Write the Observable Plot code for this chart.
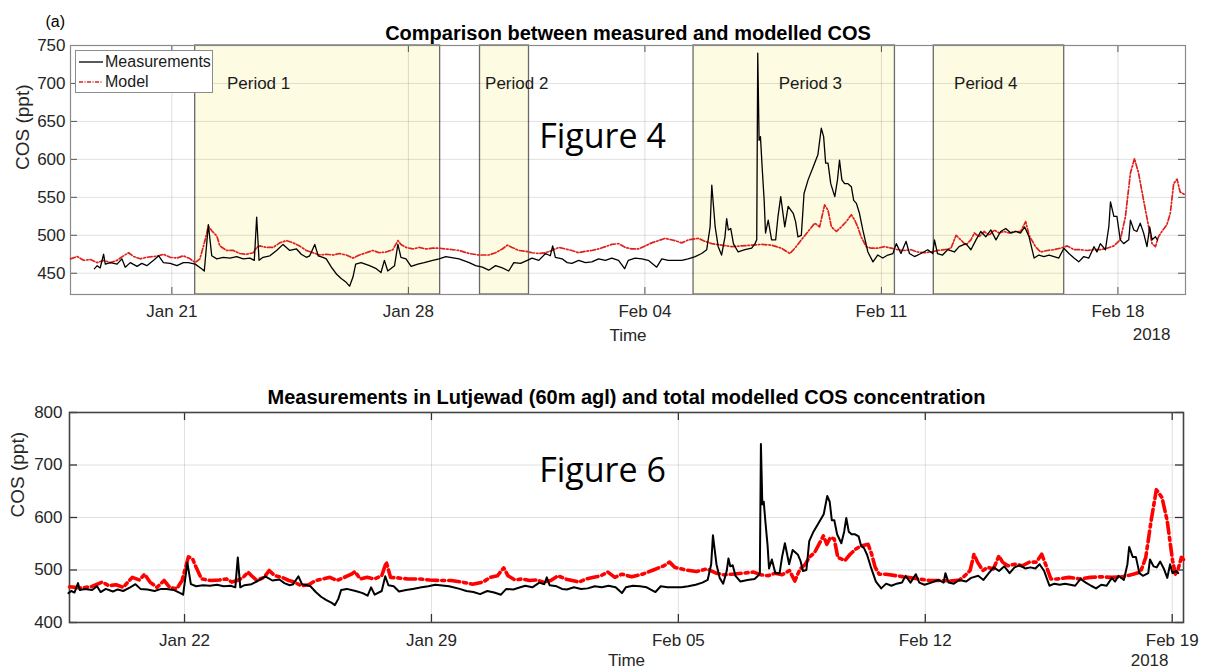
<!DOCTYPE html>
<html><head><meta charset="utf-8">
<script src="https://cdn.jsdelivr.net/npm/d3@7"></script>
<script src="https://cdn.jsdelivr.net/npm/@observablehq/plot@0.6"></script>
<style>
body{margin:0;background:#fff;}
#wrap{position:relative;width:1209px;height:672px;overflow:hidden;font-family:"Liberation Sans",Arial,sans-serif;background:#fff;}
#top{position:absolute;left:0;top:0;}
#bot{position:absolute;left:0;top:380px;}
#legend{position:absolute;left:75px;top:50px;width:138px;height:43px;border:1px solid #8c8c8c;background:#fff;font-size:16px;color:#1a1a1a;box-sizing:border-box;}
#legend .row{position:absolute;left:2px;height:20px;display:flex;align-items:center;}
#legend svg{margin-right:1px;}
</style></head>
<body>
<div id="wrap">
  <div id="top"></div>
  <div id="bot"></div>
  <div id="legend">
    <div class="row" style="top:1px"><svg width="26" height="10"><line x1="1" x2="25" y1="5" y2="5" stroke="#000" stroke-width="1.3"/></svg>Measurements</div>
    <div class="row" style="top:21px"><svg width="26" height="10"><line x1="1" x2="25" y1="5" y2="5" stroke="#e0201e" stroke-width="1.4" stroke-dasharray="4,1.5,1,1.5"/></svg>Model</div>
  </div>
</div>
<script>
// ---------- data (days since 2018-01-18 00:00 UTC) ----------
const measDay = [0.71,0.79,0.88,0.98,1.03,1.18,1.38,1.52,1.62,1.77,1.97,2.11,2.26,2.46,2.61,2.75,2.95,3.15,3.34,3.49,3.69,3.88,3.96,4.08,4.18,4.33,4.52,4.72,4.92,5.11,5.31,5.44,5.51,5.58,5.70,5.90,6.10,6.29,6.49,6.69,6.83,6.98,7.08,7.23,7.33,7.47,7.57,7.72,7.87,8.01,8.16,8.26,8.36,8.44,8.60,8.85,9.05,9.19,9.29,9.39,9.59,9.69,9.78,9.93,10.08,10.28,10.47,10.72,10.91,11.11,11.50,11.80,11.99,12.19,12.38,12.58,12.78,12.97,13.12,13.32,13.52,13.66,13.86,14.06,14.20,14.27,14.35,14.55,14.70,14.84,15.04,15.24,15.43,15.63,15.83,16.02,16.22,16.40,16.51,16.71,16.91,17.10,17.35,17.50,17.69,17.89,18.09,18.28,18.49,18.68,18.83,18.93,18.98,19.08,19.17,19.27,19.37,19.42,19.47,19.54,19.62,19.76,19.96,20.16,20.26,20.31,20.34,20.38,20.42,20.47,20.53,20.57,20.65,20.75,20.87,20.94,21.02,21.14,21.24,21.39,21.46,21.53,21.63,21.71,21.83,21.98,22.12,22.22,22.29,22.35,22.42,22.50,22.62,22.70,22.76,22.83,22.91,23.01,23.11,23.18,23.26,23.35,23.45,23.60,23.75,23.89,24.04,24.19,24.34,24.44,24.58,24.73,24.83,24.98,25.17,25.37,25.52,25.57,25.66,25.81,25.96,26.16,26.30,26.50,26.65,26.80,26.94,27.09,27.24,27.39,27.53,27.68,27.83,27.98,28.12,28.24,28.37,28.52,28.66,28.81,28.96,29.11,29.25,29.40,29.55,29.70,29.84,29.99,30.14,30.29,30.38,30.48,30.63,30.73,30.78,30.88,30.97,31.07,31.17,31.32,31.37,31.47,31.56,31.66,31.76,31.86,31.94,32.01,32.11,32.17];
const measCOS = [456,460,457,475,462,464,462,469,458,464,459,463,460,467,473,464,463,460,464,464,462,456,453,514,473,469,471,470,472,469,470,467,524,467,471,473,480,488,480,482,475,471,473,488,473,471,469,458,449,443,438,433,445,462,464,460,456,451,467,453,460,488,471,469,459,462,464,467,469,472,469,464,460,458,454,460,457,453,464,463,467,470,467,476,473,486,471,469,464,463,467,464,465,469,467,470,467,456,467,470,469,467,458,469,467,467,467,469,472,476,481,511,566,511,485,474,498,522,507,509,489,478,481,483,489,494,740,625,630,590,546,503,520,494,494,525,551,511,538,529,518,498,500,555,573,590,606,641,630,595,595,568,551,573,599,573,568,568,564,546,542,529,507,478,465,474,470,474,476,489,476,492,476,472,476,481,476,494,476,474,481,478,485,489,481,494,505,498,507,494,505,509,503,505,503,511,498,470,474,472,474,472,470,483,476,470,465,472,470,485,478,489,481,511,544,525,525,494,489,494,520,507,505,516,503,485,511,494,498,494];

const modelTopDay = [0,0.20,0.39,0.59,0.79,0.98,1.18,1.38,1.57,1.72,1.87,2.06,2.26,2.46,2.61,2.75,2.95,3.15,3.34,3.54,3.69,3.83,3.98,4.08,4.18,4.33,4.42,4.62,4.82,5.01,5.21,5.41,5.51,5.60,5.80,6.00,6.19,6.39,6.59,6.78,6.98,7.18,7.37,7.57,7.77,7.96,8.16,8.36,8.55,8.75,8.95,9.14,9.34,9.54,9.69,9.78,9.93,10.13,10.32,10.52,10.72,10.91,11.11,11.50,11.80,12.09,12.38,12.58,12.78,12.93,13.07,13.27,13.47,13.66,13.86,14.06,14.25,14.45,14.65,14.84,15.04,15.24,15.43,15.63,15.83,16.02,16.22,16.42,16.61,16.81,17.01,17.20,17.40,17.60,17.69,17.89,18.09,18.29,18.58,18.78,18.98,19.27,19.57,19.86,20.16,20.45,20.75,21.04,21.29,21.44,21.63,21.83,22.03,22.17,22.32,22.42,22.52,22.67,22.81,22.96,23.11,23.21,23.30,23.40,23.55,23.70,23.89,24.09,24.29,24.48,24.68,24.88,25.07,25.27,25.47,25.66,25.86,26.06,26.21,26.35,26.50,26.65,26.75,26.89,27.04,27.19,27.34,27.48,27.63,27.78,27.93,28.12,28.27,28.37,28.56,28.71,28.91,29.11,29.30,29.50,29.70,29.89,30.09,30.29,30.48,30.68,30.88,31.07,31.22,31.37,31.49,31.61,31.76,31.91,32.01,32.11,32.20,32.30,32.45,32.55,32.65,32.75,32.84,33.0];
const modelTopCOS = [469,472,467,468,464,467,464,467,473,477,472,469,471,472,473,475,471,470,473,469,464,469,493,512,506,499,486,480,480,476,475,477,484,486,484,484,490,493,490,486,480,477,474,475,474,476,474,470,474,477,480,477,478,481,493,488,484,482,484,482,483,483,482,480,476,474,474,477,482,487,484,480,479,477,476,477,480,484,482,480,477,479,480,482,485,488,489,484,482,482,486,490,493,496,495,493,490,494,496,492,489,487,485,486,487,488,487,483,476,483,494,505,516,511,540,533,511,505,511,518,527,520,511,498,485,483,483,485,483,481,480,481,478,477,478,480,481,483,500,494,487,494,503,498,505,500,507,503,505,503,505,505,518,500,485,478,480,481,483,486,481,481,480,481,481,483,486,494,524,582,601,582,546,511,489,485,498,505,514,529,568,574,557,553];

const modelBotDay = [0.74,1.05,1.35,1.66,1.86,2.06,2.26,2.52,2.72,2.87,3.02,3.22,3.42,3.58,3.78,3.93,4.11,4.23,4.33,4.48,4.74,4.99,5.19,5.34,5.49,5.65,5.80,5.90,6.05,6.25,6.40,6.56,6.76,6.96,7.11,7.31,7.52,7.72,7.92,8.12,8.32,8.53,8.73,8.83,8.98,9.18,9.38,9.59,9.72,9.84,10.04,10.34,10.65,10.95,11.25,11.56,11.86,12.16,12.46,12.67,12.87,13.05,13.17,13.37,13.58,13.78,13.98,14.18,14.38,14.59,14.79,14.99,15.19,15.39,15.60,15.80,16.00,16.20,16.40,16.68,16.98,17.29,17.59,17.75,17.90,18.20,18.51,18.81,19.07,19.27,19.52,19.83,20.13,20.34,20.54,20.74,20.94,21.15,21.30,21.45,21.60,21.71,21.86,22.01,22.11,22.21,22.31,22.42,22.52,22.62,22.72,22.87,23.03,23.18,23.38,23.48,23.58,23.69,23.89,24.19,24.50,24.80,25.11,25.41,25.72,25.97,26.12,26.27,26.38,26.48,26.63,26.78,26.93,27.09,27.19,27.34,27.54,27.75,27.95,28.15,28.30,28.41,28.56,28.76,29.07,29.37,29.68,29.98,30.28,30.59,30.89,31.10,31.25,31.40,31.55,31.71,31.86,32.01,32.09,32.16,32.26,32.32];
const modelBotCOS = [468,466,468,477,470,472,467,486,481,492,477,467,480,467,464,480,525,521,505,483,480,481,483,477,480,485,496,489,480,486,499,489,486,480,477,470,472,480,483,486,480,486,492,497,483,486,483,489,515,486,485,483,483,481,480,480,477,473,477,486,489,504,489,481,483,480,481,477,480,489,483,480,477,483,486,489,496,486,492,487,492,500,508,515,505,500,497,502,494,491,492,494,496,491,489,494,491,499,479,502,511,524,533,552,565,549,562,559,524,521,518,530,540,546,549,530,505,492,492,489,486,483,480,480,479,481,489,499,530,515,499,505,502,527,515,508,511,508,515,515,530,511,483,483,486,483,486,487,486,487,492,496,524,593,653,638,593,518,492,500,524,520];

const periodName = ["Period 1","Period 2","Period 3","Period 4"];
const periodStart = [3.69,12.12,18.44,25.55];
const periodEnd = [10.94,13.57,24.40,29.41];
const periodLabelDay = [4.63,12.27,20.96,26.15];

const topXTicks = ["2018-01-21","2018-01-28","2018-02-04","2018-02-11","2018-02-18"];
const topYTicks = [450,500,550,600,650,700,750];
const botXTicks = ["2018-01-22","2018-01-29","2018-02-05","2018-02-12","2018-02-19"];
const botYTicks = [400,500,600,700,800];

// ---------- helpers ----------
const t0 = Date.UTC(2018,0,18);
const toDate = d => new Date(t0 + d*864e5);
const meas = measDay.map((d,i)=>({t: toDate(d), v: measCOS[i]}));
const modelTop = modelTopDay.map((d,i)=>({t: toDate(d), v: modelTopCOS[i]}));
const modelBot = modelBotDay.map((d,i)=>({t: toDate(d), v: modelBotCOS[i]}));
const periods = periodName.map((n,i)=>({n, s: toDate(periodStart[i]), e: toDate(periodEnd[i]), l: toDate(periodLabelDay[i])}));
const tx = topXTicks.map(s=>new Date(s));
const bx = botXTicks.map(s=>new Date(s));
const fmt = d3.utcFormat("%b %d");
const FONT = "Liberation Sans, Arial, sans-serif";
const TXT = "#262626";

// ---------- top panel ----------
{
  const W=1209,H=346,mL=70,mR=24,mT=45,mB=52;
  const fw=W-mL-mR, fh=H-mT-mB;
  const p = Plot.plot({
    width:W,height:H,marginLeft:mL,marginRight:mR,marginTop:mT,marginBottom:mB,
    style:{fontFamily:FONT,fontSize:"17px",color:TXT,background:"transparent"},
    x:{type:"utc",domain:[toDate(0),toDate(33)]},
    y:{domain:[422,750]},
    marks:[
      Plot.rect(periods,{x1:"s",x2:"e",fill:"#fdfbe1",stroke:"#6a6a6a",strokeWidth:1.3}),
      Plot.gridX(tx,{stroke:"#000",strokeOpacity:0.13}),
      Plot.gridY(topYTicks,{stroke:"#000",strokeOpacity:0.12}),
      Plot.ruleX(tx,{insetTop:fh-7,stroke:"#555"}),
      Plot.ruleX(tx,{insetBottom:fh-7,stroke:"#555"}),
      Plot.ruleY(topYTicks,{insetRight:fw-7,stroke:"#555"}),
      Plot.ruleY(topYTicks,{insetLeft:fw-7,stroke:"#555"}),
      Plot.frame({stroke:"#8a8a8a",strokeWidth:1.2}),
      Plot.axisX(tx,{tickSize:0,tickPadding:10,tickFormat:fmt,label:null,fill:TXT}),
      Plot.axisY(topYTicks,{tickSize:0,tickPadding:5,label:null,fill:TXT}),
      Plot.line(modelTop,{x:"t",y:"v",stroke:"#e0201e",strokeWidth:1.7,strokeDasharray:"5,2,1.5,2"}),
      Plot.line(meas,{x:"t",y:"v",stroke:"#000",strokeWidth:1.3}),
      Plot.text(periods,{x:"l",y:()=>700,text:"n",textAnchor:"start",fontSize:17,fill:"#1a1a1a"}),
      Plot.text(["Figure 4"],{frameAnchor:"top-left",dx:532,dy:92,textAnchor:"middle",lineAnchor:"middle",fontFamily:"Open Sans",fontSize:34,fill:"#000"}),
      Plot.text(["Comparison between measured and modelled COS"],{frameAnchor:"top",dy:-12,lineAnchor:"middle",fontWeight:"bold",fontSize:20,fill:"#000"}),
      Plot.text(["(a)"],{frameAnchor:"top-left",dx:-25,dy:-24,textAnchor:"start",lineAnchor:"middle",fontSize:16,fill:"#000"}),
      Plot.text(["COS (ppt)"],{frameAnchor:"left",dx:-48,rotate:-90,lineAnchor:"middle",fontSize:19,fill:TXT}),
      Plot.text(["Time"],{frameAnchor:"bottom",dy:41,lineAnchor:"middle",fontSize:17,fill:TXT}),
      Plot.text(["2018"],{frameAnchor:"bottom-right",dx:-15,dy:40,textAnchor:"end",lineAnchor:"middle",fontSize:17,fill:TXT})
    ]
  });
  document.getElementById("top").appendChild(p);
}

// ---------- bottom panel ----------
{
  const W=1209,H=292,mL=69,mR=26,mT=32,mB=50;
  const fw=W-mL-mR, fh=H-mT-mB;
  const p = Plot.plot({
    width:W,height:H,marginLeft:mL,marginRight:mR,marginTop:mT,marginBottom:mB,
    style:{fontFamily:FONT,fontSize:"17px",color:TXT,background:"transparent"},
    x:{type:"utc",domain:[toDate(0.739),toDate(32.32)]},
    y:{domain:[400,800]},
    marks:[
      Plot.gridX(bx,{stroke:"#000",strokeOpacity:0.12}),
      Plot.gridY(botYTicks,{stroke:"#000",strokeOpacity:0.12}),
      Plot.ruleX(bx,{insetTop:fh-8,stroke:"#333",strokeWidth:1.3}),
      Plot.ruleX(bx,{insetBottom:fh-8,stroke:"#333",strokeWidth:1.3}),
      Plot.ruleY(botYTicks,{insetRight:fw-8,stroke:"#333",strokeWidth:1.3}),
      Plot.ruleY(botYTicks,{insetLeft:fw-8,stroke:"#333",strokeWidth:1.3}),
      Plot.frame({stroke:"#444",strokeWidth:1.6}),
      Plot.axisX(bx,{tickSize:0,tickPadding:11,tickFormat:fmt,label:null,fill:TXT}),
      Plot.axisY(botYTicks,{tickSize:0,tickPadding:7,label:null,fill:TXT}),
      Plot.line(modelBot,{x:"t",y:"v",stroke:"#ff0000",strokeWidth:3.6,strokeDasharray:"11,4,3,4"}),
      Plot.line(meas,{x:"t",y:"v",stroke:"#000",strokeWidth:2}),
      Plot.text(["Figure 6"],{frameAnchor:"top-left",dx:533,dy:59,textAnchor:"middle",lineAnchor:"middle",fontFamily:"Open Sans",fontSize:34,fill:"#000"}),
      Plot.text(["Measurements in Lutjewad (60m agl) and total modelled COS concentration"],{frameAnchor:"top",dy:-15,lineAnchor:"middle",fontWeight:"bold",fontSize:20,fill:"#000"}),
      Plot.text(["COS (ppt)"],{frameAnchor:"left",dx:-52,rotate:-90,lineAnchor:"middle",fontSize:19,fill:TXT}),
      Plot.text(["Time"],{frameAnchor:"bottom",dy:38,lineAnchor:"middle",fontSize:17,fill:TXT}),
      Plot.text(["2018"],{frameAnchor:"bottom-right",dx:-15,dy:38,textAnchor:"end",lineAnchor:"middle",fontSize:17,fill:TXT})
    ]
  });
  document.getElementById("bot").appendChild(p);
}
</script>
</body></html>
